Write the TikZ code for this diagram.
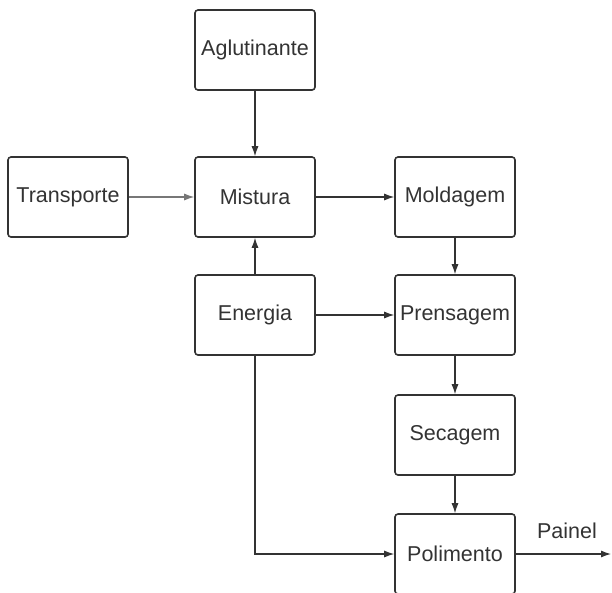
\documentclass[tikz,border=0pt]{standalone}
\usepackage{fontspec}
\setmainfont{Liberation Sans}
\usetikzlibrary{arrows.meta}
\definecolor{linha}{HTML}{333333}
\definecolor{cinza}{HTML}{777777}
\tikzset{
  etapa/.style={draw=linha, line width=1.6pt, rounded corners=3pt, minimum width=120pt,
    minimum height=80pt, inner sep=1pt, text=linha, font=\fontsize{21.5}{24}\selectfont},
  fluxo/.style={draw=linha, line width=1.1pt, -{Latex[length=10pt,width=7pt]}}
}

\begin{document}
\begin{tikzpicture}[x=1pt,y=-1pt]
\useasboundingbox (0,0) rectangle (612,592);
% --- Etapas ---
\node[etapa] (aglut) at (255,50) {Aglutinante};
\node[etapa] (transp) at (68,197) {Transporte};
\node[etapa] (mist) at (255,197) {Mistura};
\node[etapa] (mold) at (455,197) {Moldagem};
\node[etapa] (energ) at (255,315) {Energia};
\node[etapa] (prens) at (455,315) {Prensagem};
\node[etapa] (sec) at (455,435) {Secagem};
\node[etapa] (polim) at (455,554) {Polimento};

% --- Ligacoes ---
\draw[fluxo] (aglut) -- (mist);
\draw[fluxo, draw=cinza] (transp) -- (mist);
\draw[fluxo] (mist) -- (mold);
\draw[fluxo] (energ) -- (mist);
\draw[fluxo] (mold) -- (prens);
\draw[fluxo] (energ) -- (prens);
\draw[fluxo] (prens) -- (sec);
\draw[fluxo] (sec) -- (polim);
\draw[fluxo] (energ.south) |- (polim.west);

% --- Saida ---
\coordinate (fim) at (611,554);
\draw[fluxo] (polim.east) -- (fim);
\node[text=linha, font=\fontsize{21.5}{24}\selectfont] (painel) at (567,531) {Painel};
\end{tikzpicture}
\end{document}
